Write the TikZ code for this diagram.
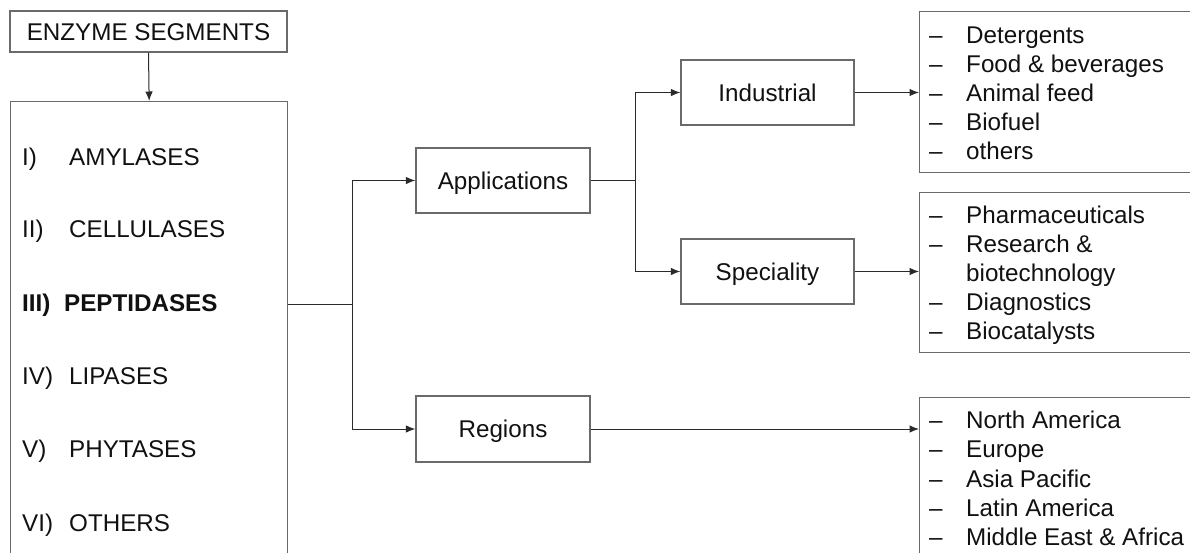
\documentclass[tikz,border=0pt]{standalone}
\usepackage{fontspec}
\setmainfont{Liberation Sans}
\usetikzlibrary{arrows.meta}
\definecolor{boxgray}{HTML}{6A6A6A}
\definecolor{linegray}{HTML}{2A2A2A}
\definecolor{ink}{HTML}{111111}
\begin{document}
\begin{tikzpicture}[x=1pt,y=-1pt,
  box/.style={draw=boxgray, line width=1.3pt, inner sep=0pt, fill=white,
    font=\fontsize{24.2}{29}\selectfont, text=ink, text height=17.3pt, text depth=0pt},
  txt/.style={font=\fontsize{24.2}{29}\selectfont, inner sep=0pt, anchor=base west, text=ink},
  conn/.style={draw=linegray, line width=1pt},
  arr/.style={conn, -{Latex[length=9.5pt,width=7.5pt]}}]
\clip (0,0) rectangle (1190,552);
\fill[white] (0,0) rectangle (1190,552);

% left column
\node[box, minimum width=277pt, minimum height=41pt] (seg) at (148.5,31.5) {ENZYME SEGMENTS};
\node[box, anchor=north west, minimum width=277pt, minimum height=480pt] (main) at (10,101) {};
\draw[arr] (seg.south) -- (main.north);

\node[txt] (l1) at (22,165) {I)};
\node[txt] (n1) at (69,165) {AMYLASES};
\node[txt] (l2) at (22,237) {II)};
\node[txt] (n2) at (69,237) {CELLULASES};
\node[txt, font=\fontsize{24.2}{29}\selectfont\bfseries] (l3) at (22,311) {III)};
\node[txt, font=\fontsize{24.2}{29}\selectfont\bfseries] (n3) at (64,311) {PEPTIDASES};
\node[txt] (l4) at (22,384) {IV)};
\node[txt] (n4) at (69,384) {LIPASES};
\node[txt] (l5) at (22,457) {V)};
\node[txt] (n5) at (69,457) {PHYTASES};
\node[txt] (l6) at (22,531) {VI)};
\node[txt] (n6) at (69,531) {OTHERS};

% middle boxes
\node[box, minimum width=174pt, minimum height=65pt] (app) at (503,180.5) {Applications};
\node[box, minimum width=174pt, minimum height=66pt] (reg) at (503,429) {Regions};
\node[box, minimum width=173pt, minimum height=65pt] (ind) at (767.5,92.5) {Industrial};
\node[box, minimum width=173pt, minimum height=65pt] (spec) at (767.5,271.5) {Speciality};

% right list boxes
\node[box, anchor=north west, minimum width=290pt, minimum height=161pt] (list1) at (919,11) {};
\node[box, anchor=north west, minimum width=290pt, minimum height=160pt] (list2) at (919,192) {};
\node[box, anchor=north west, minimum width=290pt, minimum height=180pt] (list3) at (919,397) {};

% connectors
\coordinate (mainout) at (main.north east |- 0,304);
\coordinate (split1) at (352,304);
\coordinate (split2) at (635,180.5);
\draw[conn] (mainout) -- (split1);
\draw[arr] (split1) |- (app.west);
\draw[arr] (split1) |- (reg.west);
\draw[conn] (app.east) -- (split2);
\draw[arr] (split2) |- (ind.west);
\draw[arr] (split2) |- (spec.west);
\draw[arr] (ind.east) -- (ind.east -| list1.west);
\draw[arr] (spec.east) -- (spec.east -| list2.west);
\draw[arr] (reg.east) -- (reg.east -| list3.west);

% list 1
\foreach \y/\t [count=\i] in {43/Detergents, 72/Food \& beverages, 101/Animal feed, 130/Biofuel, 159/others}{
  \node[txt] (d1\i) at (929,\y) {--};
  \node[txt] (t1\i) at (966,\y) {\t};
}
% list 2
\node[txt] (d21) at (929,223) {--};
\node[txt] (t21) at (966,223) {Pharmaceuticals};
\node[txt] (d22) at (929,252) {--};
\node[txt] (t22) at (966,252) {Research \&};
\node[txt] (t23) at (966,281) {biotechnology};
\node[txt] (d24) at (929,310) {--};
\node[txt] (t24) at (966,310) {Diagnostics};
\node[txt] (d25) at (929,339) {--};
\node[txt] (t25) at (966,339) {Biocatalysts};
% list 3
\foreach \y/\t [count=\i] in {428/North America, 457/Europe, 487/Asia Pacific, 516/Latin America, 545/Middle East \& Africa}{
  \node[txt] (d3\i) at (929,\y) {--};
  \node[txt] (t3\i) at (966,\y) {\t};
}
\end{tikzpicture}
\end{document}
